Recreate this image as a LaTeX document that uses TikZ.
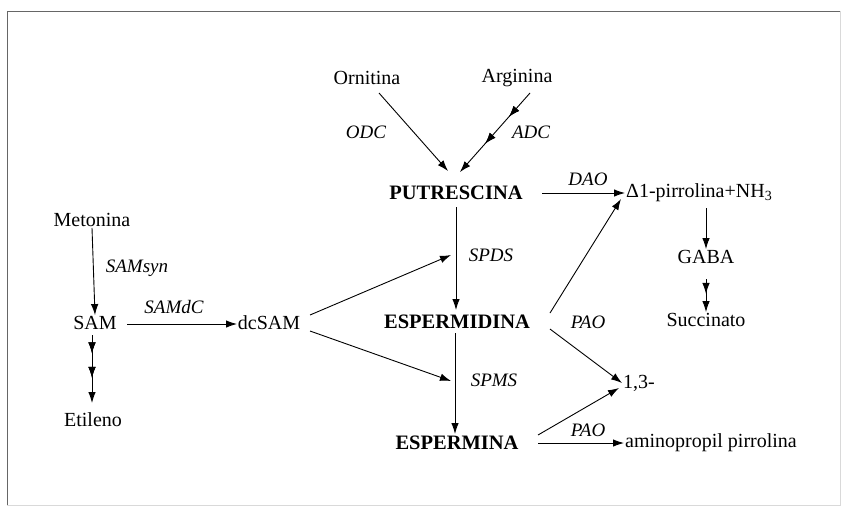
\documentclass[tikz,border=0pt]{standalone}
\usepackage{fontspec}
\setmainfont{Liberation Serif}
\usetikzlibrary{arrows.meta,decorations.markings}
\tikzset{
  tx/.style={inner sep=1pt, font=\fontsize{20}{22}\selectfont},
  bx/.style={inner sep=1pt, font=\fontsize{20.5}{22}\selectfont\bfseries},
  enz/.style={inner sep=1pt, font=\fontsize{19}{22}\selectfont\itshape},
  arr/.style={line width=0.9pt, -{Latex[length=11pt,width=7.5pt]}},
  midtips/.style={postaction={decorate}, decoration={markings,
     mark=at position #1 with {\arrow{Latex[length=11pt,width=7.5pt]}}}},
}
\begin{document}
\begin{tikzpicture}[x=1pt,y=-1pt]
\useasboundingbox (0,0) rectangle (845,512);
\fill[white] (0,0) rectangle (845,512);
% frame
\draw[black!60, line width=0.9pt] (7,505) -- (7,11) -- (840,11);
\draw[black!15, line width=0.8pt] (7,505) -- (840,505) -- (840,11);

% nodes
\node[tx] (orn) at (367,78) {Ornitina};
\node[tx] (arg) at (517,78) {Arginina};
\node[bx] (put) at (456,193) {PUTRESCINA};
\node[bx] (spd) at (457,322) {ESPERMIDINA};
\node[bx] (spm) at (457,443) {ESPERMINA};
\node[tx] (met) at (92,220) {Metonina};
\node[tx] (sam) at (95,323) {SAM};
\node[tx] (dcs) at (269,323) {dcSAM};
\node[tx] (eti) at (93,420) {Etileno};
\node[tx, anchor=west] (pir) at (625,193) {Δ1-pirrolina+NH\textsubscript{3}};
\node[tx] (gab) at (706,257) {GABA};
\node[tx] (suc) at (706,320) {Succinato};
\node[tx, anchor=west] (tre) at (622,383) {1,3-};
\node[tx, anchor=west] (amp) at (624,443) {aminopropil pirrolina};

% enzyme labels
\node[enz] (odc) at (366,132) {ODC};
\node[enz] (adc) at (531,132) {ADC};
\node[enz] (dao) at (588,179) {DAO};
\node[enz] (spds) at (491,255) {SPDS};
\node[enz] (spms) at (494,380) {SPMS};
\node[enz] (samsyn) at (137,268) {SAMsyn};
\node[enz] (samdc) at (174,307) {SAMdC};
\node[enz] (pao1) at (588,322) {PAO};
\node[enz] (pao2) at (588,430) {PAO};

% free ends
\coordinate (ornS) at (379,93);
\coordinate (putL) at (448,171);
\coordinate (argS) at (530,93);
\coordinate (putR) at (460,172);
\coordinate (samS) at (92,335);
\coordinate (etiN) at (92,403);
\coordinate (samE) at (127,324);
\coordinate (dcsW) at (237,324);
\coordinate (dcsA) at (310,315);
\coordinate (dcsB) at (310,331);
\coordinate (spdsW) at (451,255);
\coordinate (spmsW) at (451,381);
\coordinate (putS) at (456,207);
\coordinate (spdN) at (456,310);
\coordinate (spdS) at (455,333);
\coordinate (spmN) at (455,434);
\coordinate (putE) at (542,193);
\coordinate (spdNE) at (550,313);
\coordinate (pirSW) at (621,199);
\coordinate (pirS) at (706,208);
\coordinate (gabS) at (706,279);
\coordinate (spdSE) at (550,329);
\coordinate (spmNE) at (538,435);
\coordinate (treSW) at (619,388);
\coordinate (spmE) at (538,443);

% connectors
\draw[arr] (ornS) -- (putL);
\draw[arr, midtips=0.3, midtips=0.64] (argS) -- (putR);
\draw[arr] (met.south) -- (sam.north);
\draw[arr, midtips=0.27, midtips=0.63] (samS) -- (etiN);
\draw[arr] (samE) -- (dcsW);
\draw[arr] (dcsA) -- (spdsW);
\draw[arr] (dcsB) -- (spmsW);
\draw[arr] (putS) -- (spdN);
\draw[arr] (spdS) -- (spmN);
\draw[arr] (putE) -- (pir.west);
\draw[arr] (spdNE) -- (pirSW);
\draw[arr] (pirS) -- (gab.north);
\draw[arr, midtips=0.45] (gabS) -- (suc.north);
\draw[arr] (spdSE) -- (tre.west);
\draw[arr] (spmNE) -- (treSW);
\draw[arr] (spmE) -- (amp.west);
\end{tikzpicture}
\end{document}
